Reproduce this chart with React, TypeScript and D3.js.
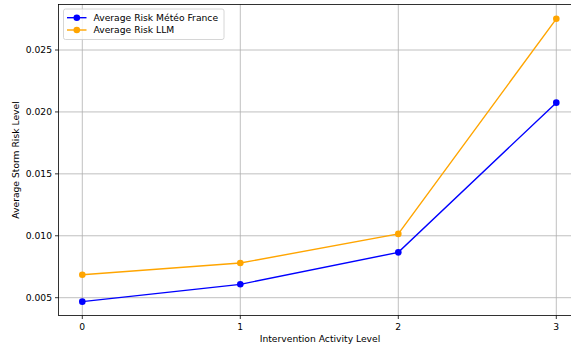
import { useEffect, useRef } from "react";
import * as d3 from "d3";

const width = 571;
const height = 350;

const levels = [0, 1, 2, 3];
const meteoFrance = [0.00468, 0.00608, 0.00866, 0.02075];
const llm = [0.00685, 0.0078, 0.01015, 0.02752];
const yTicks = [0.005, 0.01, 0.015, 0.02, 0.025];

const series = [
  { name: "Average Risk Météo France", values: meteoFrance, color: "#0000ff" },
  { name: "Average Risk LLM", values: llm, color: "#ffa500" },
];

const App = () => {
  const ref = useRef<SVGSVGElement>(null);

  useEffect(() => {
    const svg = d3.select(ref.current);
    svg.selectAll("*").remove();

    const left = 58.5;
    const top = 4.5;
    const bottom = 315.5;
    const right = 590;

    const x = d3.scaleLinear().domain([0, 3]).range([82.3, 556.3]);
    const y = d3.scaleLinear().domain([0.005, 0.025]).range([297.7, 50]);

    const font = "DejaVu Sans, sans-serif";
    const fs = 9.2;

    // grid
    svg.append("g")
      .selectAll("line")
      .data(levels)
      .enter().append("line")
      .attr("x1", d => x(d)).attr("x2", d => x(d))
      .attr("y1", top).attr("y2", bottom)
      .attr("stroke", "#b0b0b0").attr("stroke-width", 0.8);

    svg.append("g")
      .selectAll("line")
      .data(yTicks)
      .enter().append("line")
      .attr("x1", left).attr("x2", right)
      .attr("y1", d => y(d)).attr("y2", d => y(d))
      .attr("stroke", "#b0b0b0").attr("stroke-width", 0.8);

    // lines + markers
    const line = d3.line<number>()
      .x((_, i) => x(levels[i]))
      .y(d => y(d));

    series.forEach(s => {
      svg.append("path")
        .datum(s.values)
        .attr("d", line)
        .attr("fill", "none")
        .attr("stroke", s.color)
        .attr("stroke-width", 1.4);
      svg.append("g")
        .selectAll("circle")
        .data(s.values)
        .enter().append("circle")
        .attr("cx", (_, i) => x(levels[i]))
        .attr("cy", d => y(d))
        .attr("r", 3.3)
        .attr("fill", s.color);
    });

    // spines
    svg.append("rect")
      .attr("x", left).attr("y", top)
      .attr("width", right - left).attr("height", bottom - top)
      .attr("fill", "none").attr("stroke", "#000").attr("stroke-width", 0.8);

    // x ticks
    const xt = svg.append("g");
    levels.forEach(d => {
      xt.append("line")
        .attr("x1", x(d)).attr("x2", x(d))
        .attr("y1", bottom).attr("y2", bottom + 3.5)
        .attr("stroke", "#000").attr("stroke-width", 0.8);
      xt.append("text")
        .attr("x", x(d)).attr("y", bottom + 14)
        .attr("text-anchor", "middle")
        .attr("font-family", font).attr("font-size", fs)
        .text(d);
    });

    // y ticks
    const yt = svg.append("g");
    yTicks.forEach(d => {
      yt.append("line")
        .attr("x1", left - 3.5).attr("x2", left)
        .attr("y1", y(d)).attr("y2", y(d))
        .attr("stroke", "#000").attr("stroke-width", 0.8);
      yt.append("text")
        .attr("x", left - 6.5).attr("y", y(d))
        .attr("dy", "0.35em")
        .attr("text-anchor", "end")
        .attr("font-family", font).attr("font-size", fs)
        .text(d3.format(".3f")(d));
    });

    svg.append("text")
      .attr("x", 320).attr("y", 342)
      .attr("text-anchor", "middle")
      .attr("font-family", font).attr("font-size", fs)
      .text("Intervention Activity Level");

    svg.append("text")
      .attr("transform", `translate(18.5,${(top + bottom) / 2}) rotate(-90)`)
      .attr("text-anchor", "middle")
      .attr("font-family", font).attr("font-size", fs)
      .text("Average Storm Risk Level");

    // legend
    const lg = svg.append("g").attr("transform", "translate(63.5,9)");
    lg.append("rect")
      .attr("width", 160.5).attr("height", 30.5).attr("rx", 2)
      .attr("fill", "#fff").attr("fill-opacity", 0.8)
      .attr("stroke", "#cccccc").attr("stroke-width", 0.8);
    series.forEach((s, i) => {
      const cy = 8.7 + i * 12.3;
      lg.append("line")
        .attr("x1", 3.5).attr("x2", 23)
        .attr("y1", cy).attr("y2", cy)
        .attr("stroke", s.color).attr("stroke-width", 1.4);
      lg.append("circle")
        .attr("cx", 13.3).attr("cy", cy).attr("r", 3.3)
        .attr("fill", s.color);
      lg.append("text")
        .attr("x", 30).attr("y", cy)
        .attr("dy", "0.35em")
        .attr("font-family", font).attr("font-size", fs)
        .text(s.name);
    });
  }, []);

  return (
    <svg
      ref={ref}
      width={width}
      height={height}
      style={{ position: "absolute", left: 0, top: 0, background: "#fff" }}
    ></svg>
  );
};

export default App;
